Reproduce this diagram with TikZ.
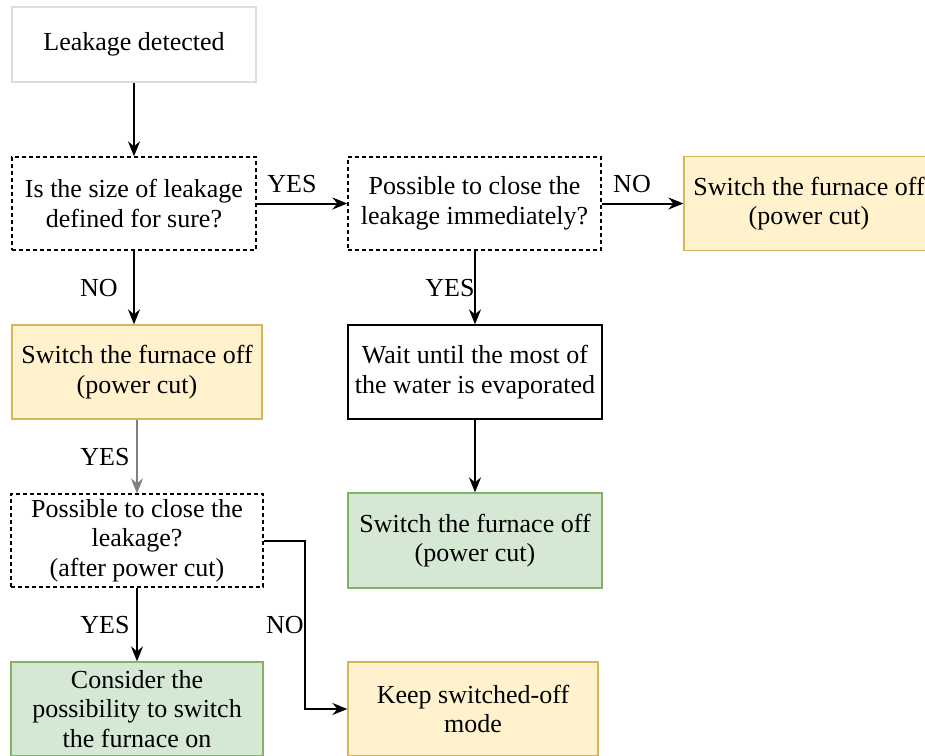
\documentclass[tikz,border=0pt]{standalone}
\usepackage{fontspec}
\setmainfont{Liberation Serif}
\usetikzlibrary{arrows.meta}
\definecolor{orfill}{HTML}{FFF2CC}
\definecolor{ordraw}{HTML}{D6B656}
\definecolor{grfill}{HTML}{D5E8D4}
\definecolor{grdraw}{HTML}{82B366}
\definecolor{faint}{HTML}{DDDDDD}
\definecolor{grayline}{HTML}{7F7F7F}
\begin{document}
\begin{tikzpicture}[x=1pt,y=-1pt,
  every node/.style={font=\rmfamily\fontsize{26}{29.5}\selectfont, inner sep=0pt},
  box/.style={draw, line width=1.3pt, align=center, minimum height=94pt},
  plainbox/.style={box, draw=faint},
  askbox/.style={box, dashed, dash pattern=on 4pt off 3pt},
  actbox/.style={box, draw=black},
  offbox/.style={box, draw=ordraw, fill=orfill},
  okbox/.style={box, draw=grdraw, fill=grfill},
  conn/.style={line width=2pt, -{Stealth[length=15pt,width=12pt,inset=5pt]}},
  lbl/.style={anchor=center}
]
\useasboundingbox (0,0) rectangle (925,755);
\clip (0,0) rectangle (925,755);

% decision flow nodes
\node[plainbox, minimum width=244pt, minimum height=75pt] (start) at (134,44.5) {Leakage detected};
\node[askbox, minimum width=244pt, minimum height=93pt] (q1) at (134,203.5) {Is the size of leakage\\defined for sure?};
\node[askbox, minimum width=253pt, minimum height=93pt] (q2) at (474.5,203.5) {Possible to close the\\leakage immediately?};
\node[offbox, minimum width=250pt] (offR) at (809,203.5) {Switch the furnace off\\(power cut)};
\node[offbox, minimum width=250pt] (offL) at (137,372) {Switch the furnace off\\(power cut)};
\node[actbox, minimum width=254pt] (wait) at (475,372) {Wait until the most of\\the water is evaporated};
\node[okbox, minimum width=254pt, minimum height=95pt] (offG) at (475,540.5) {Switch the furnace off\\(power cut)};
\node[askbox, minimum width=252pt, minimum height=93pt] (q3) at (137,540.5) {Possible to close the\\leakage?\\(after power cut)};
\node[okbox, minimum width=252pt] (cons) at (137,709) {Consider the\\possibility to switch\\the furnace on};
\node[offbox, minimum width=250pt] (keep) at (473,709) {Keep switched-off\\mode};

% connectors
\coordinate (bend) at (305,540.5);
\draw[conn] (start.south) -- (q1.north);
\draw[conn] (q1.east) -- (q2.west);
\draw[conn] (q2.east) -- (offR.west);
\draw[conn] (q1.south) -- (q1.south |- offL.north);
\draw[conn] (q2.south -| wait.north) -- (wait.north);
\draw[conn, draw=grayline] (offL.south) -- (q3.north);
\draw[conn] (wait.south) -- (offG.north);
\draw[conn] (q3.south) -- (cons.north);
\draw[conn] (q3.east) -- (bend) |- (keep.west);

% branch labels
\node[lbl] (yes1) at (292,184) {YES};
\node[lbl] (no1) at (632,184) {NO};
\node[lbl] (no2) at (99,288) {NO};
\node[lbl] (yes2) at (450,288) {YES};
\node[lbl] (yes3) at (105,457) {YES};
\node[lbl] (yes4) at (105,625) {YES};
\node[lbl] (no3) at (285,625) {NO};
\end{tikzpicture}
\end{document}
